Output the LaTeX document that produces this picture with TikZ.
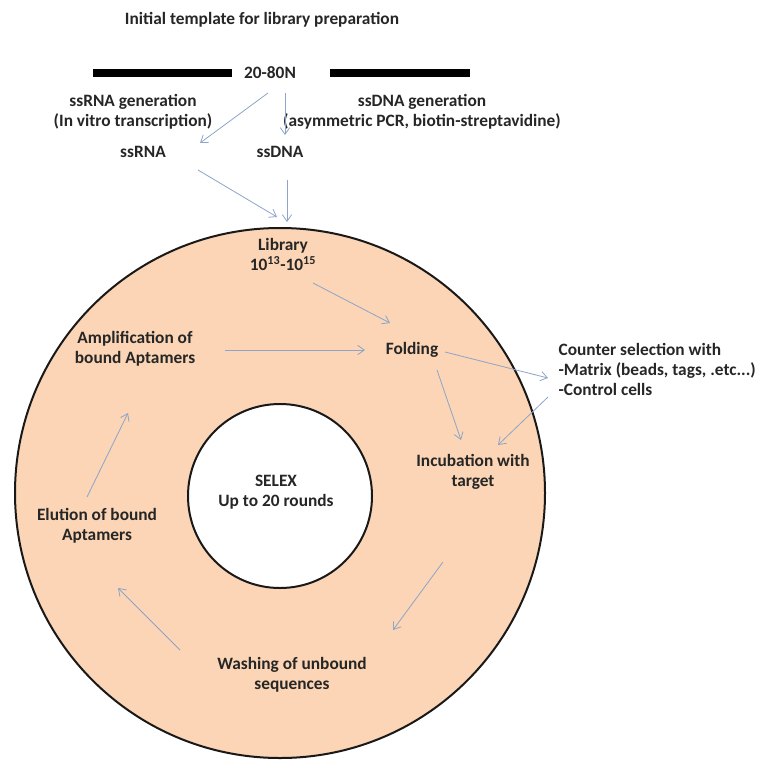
\documentclass[tikz,border=0pt]{standalone}
\usepackage{fontspec}
\setmainfont{Carlito}
\usetikzlibrary{arrows.meta}
\definecolor{peach}{RGB}{251,213,181}
\definecolor{flowblue}{RGB}{140,165,200}
\tikzset{
  lbl/.style={font=\bfseries\fontsize{13}{15}\selectfont,text=black!85,align=center,inner sep=1pt},
  flow/.style={draw=flowblue,line width=0.6pt,-{Straight Barb[length=5pt,width=7pt]}},
  ring/.style={draw=black!90,line width=1.5pt}
}
\begin{document}
\begin{tikzpicture}[x=0.75pt,y=-0.75pt]
  \useasboundingbox (0,0) rectangle (760,760);
  % rings
  \filldraw[ring,fill=peach] (280,493) circle (265);
  \filldraw[ring,fill=white] (280,496) circle (92);
  % template
  \node[lbl] (title) at (262,20) {Initial template for library preparation};
  \node[lbl] (seq) at (270,73) {20-80N};
  \draw[line width=6.5pt] (93,73) -- (232,73);
  \draw[line width=6.5pt] (330,73) -- (470,73);
  \node[lbl] (rnagen) at (133,112) {ssRNA generation\\(In vitro transcription)};
  \node[lbl] (dnagen) at (422,112) {ssDNA generation\\(asymmetric PCR, biotin-streptavidine)};
  \node[lbl] (ssrna) at (143,152) {ssRNA};
  \node[lbl] (ssdna) at (280,152) {ssDNA};
  % cycle
  \node[lbl] (library) at (283,254) {Library\\10\textsuperscript{13}-10\textsuperscript{15}};
  \node[lbl] (folding) at (412,350) {Folding};
  \node[lbl] (amplif) at (135,349) {Amplification of\\bound Aptamers};
  \node[lbl,anchor=west,align=left] (counter) at (557,369) {Counter selection with\\-Matrix (beads, tags, .etc...)\\-Control cells};
  \node[lbl] (incub) at (473,472) {Incubation with\\target};
  \node[lbl] (wash) at (292,675) {Washing of unbound\\sequences};
  \node[lbl] (elute) at (97,526) {Elution of bound\\Aptamers};
  \node[lbl] (selex) at (276,492) {SELEX\\Up to 20 rounds};
  % arrows
  \draw[flow] ([shift={(-2,20)}]seq.center) -- ([shift={(57,-9)}]ssrna.center);
  \draw[flow] ([shift={(15,20)}]seq.center) -- ([shift={(5,-17)}]ssdna.center);
  \draw[flow] ([shift={(55,18)}]ssrna.center) -- ([shift={(-6,-37)}]library.center);
  \draw[flow] ([shift={(7,28)}]ssdna.center) -- ([shift={(4,-32)}]library.center);
  \draw[flow] ([shift={(30,29)}]library.center) -- ([shift={(-22,-27)}]folding.center);
  \draw[flow] ([shift={(90,1)}]amplif.center) -- ([shift={(-47,0)}]folding.center);
  \draw[flow] ([shift={(33,2)}]folding.center) -- ([shift={(-9,9)}]counter.west);
  \draw[flow] ([shift={(-9,28)}]counter.west) -- ([shift={(25,-27)}]incub.center);
  \draw[flow] ([shift={(25,20)}]folding.center) -- ([shift={(-12,-32)}]incub.center);
  \draw[flow] ([shift={(-30,90)}]incub.center) -- ([shift={(101,-45)}]wash.center);
  \draw[flow] ([shift={(-112,-25)}]wash.center) -- ([shift={(21,62)}]elute.center);
  \draw[flow] ([shift={(-10,-29)}]elute.center) -- ([shift={(-7,64)}]amplif.center);
\end{tikzpicture}
\end{document}
